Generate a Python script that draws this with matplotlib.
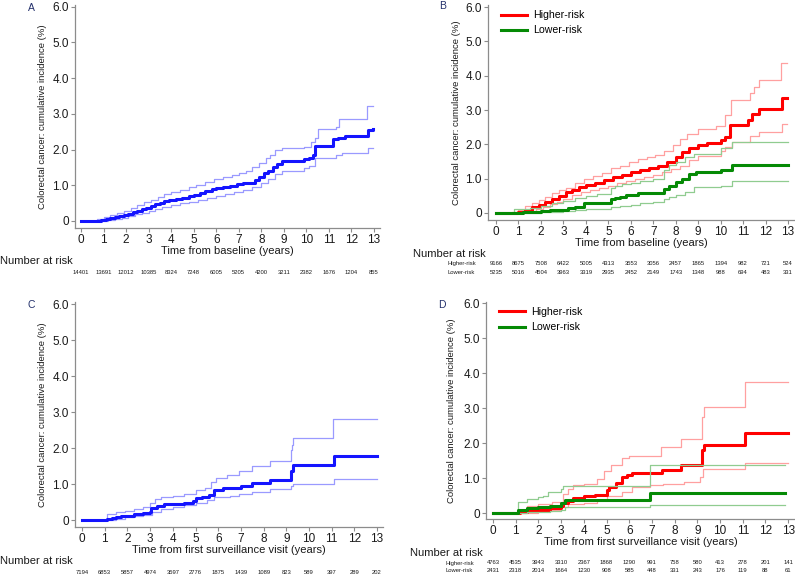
import numpy as np
import matplotlib.pyplot as plt
from matplotlib.transforms import blended_transform_factory

plt.rcParams['font.family'] = ['Liberation Sans', 'DejaVu Sans']

years = list(range(14))
ytick_vals = [0, 1, 2, 3, 4, 5, 6]
ytick_labels = ['0', '1.0', '2.0', '3.0', '4.0', '5.0', '6.0']

# ---- panel A : all, from baseline
a_t = [0, 0.7, 0.9, 1.1, 1.3, 1.5, 1.7, 1.9, 2.1, 2.3, 2.5, 2.7, 2.9, 3.1, 3.3, 3.5, 3.7, 3.9, 4.2, 4.5,
       4.8, 5.0, 5.3, 5.5, 5.8, 6.0, 6.3, 6.6, 6.9, 7.2, 7.5, 7.7, 7.9, 8.1, 8.3, 8.5, 8.7, 8.9, 9.9, 10.1,
       10.3, 10.4, 11.2, 11.4, 11.7, 12.75, 12.97]
a_est = [0, 0.01, 0.03, 0.05, 0.08, 0.10, 0.13, 0.16, 0.19, 0.24, 0.29, 0.33, 0.37, 0.42, 0.47, 0.51, 0.55,
         0.59, 0.62, 0.65, 0.70, 0.73, 0.78, 0.84, 0.88, 0.92, 0.95, 0.98, 1.03, 1.05, 1.07, 1.14, 1.22, 1.33,
         1.40, 1.50, 1.60, 1.68, 1.72, 1.77, 1.85, 2.10, 2.29, 2.33, 2.37, 2.55, 2.58]
a_up_t = [0, 0.7, 1.0, 1.3, 1.6, 1.9, 2.2, 2.5, 2.8, 3.1, 3.4, 3.7, 4.0, 4.4, 4.8, 5.1, 5.5, 5.9, 6.3, 6.7,
          7.0, 7.3, 7.6, 7.9, 8.2, 8.4, 8.6, 8.9, 9.9, 10.2, 10.4, 10.5, 11.3, 11.45, 12.7, 12.97]
a_up = [0, 0.05, 0.10, 0.16, 0.22, 0.28, 0.36, 0.44, 0.52, 0.58, 0.66, 0.74, 0.80, 0.86, 0.94, 1.01, 1.08,
        1.16, 1.22, 1.28, 1.33, 1.40, 1.50, 1.63, 1.75, 1.85, 1.99, 2.04, 2.08, 2.20, 2.32, 2.57, 2.64, 2.85,
        3.22, 3.22]
a_lo_t = [0, 0.9, 1.2, 1.5, 1.8, 2.1, 2.4, 2.7, 3.0, 3.3, 3.6, 4.0, 4.4, 4.8, 5.2, 5.6, 6.0, 6.4, 6.8, 7.2,
          7.6, 8.0, 8.3, 8.6, 8.9, 9.9, 10.1, 10.4, 11.3, 11.6, 12.75, 12.97]
a_lo = [0, 0.01, 0.03, 0.06, 0.09, 0.13, 0.18, 0.23, 0.28, 0.33, 0.39, 0.45, 0.49, 0.54, 0.58, 0.64, 0.70,
        0.74, 0.80, 0.86, 0.95, 1.07, 1.18, 1.30, 1.40, 1.47, 1.55, 1.75, 1.85, 1.91, 2.05, 2.05]
a_risk = [14401, 13691, 12012, 10385, 8324, 7248, 6005, 5205, 4200, 3211, 2382, 1676, 1204, 855]

# ---- panel B : higher vs lower risk, from baseline
b_hi_t = [0, 0.7, 1.0, 1.3, 1.6, 1.9, 2.2, 2.5, 2.8, 3.1, 3.4, 3.7, 4.0, 4.4, 4.8, 5.2, 5.6, 6.0, 6.4, 6.8,
          7.2, 7.6, 8.0, 8.3, 8.6, 9.0, 9.4, 10.0, 10.2, 10.4, 11.2, 11.4, 11.7, 12.75, 12.97]
b_hi = [0, 0.01, 0.04, 0.10, 0.17, 0.24, 0.33, 0.40, 0.50, 0.60, 0.68, 0.76, 0.83, 0.88, 0.97, 1.05, 1.12,
        1.20, 1.25, 1.32, 1.38, 1.50, 1.63, 1.78, 1.90, 1.98, 2.03, 2.12, 2.22, 2.57, 2.70, 2.88, 3.02, 3.34,
        3.35]
b_hi_up_t = [0, 0.7, 1.0, 1.3, 1.6, 1.9, 2.2, 2.5, 2.8, 3.1, 3.5, 3.9, 4.3, 4.7, 5.1, 5.5, 5.9, 6.3, 6.7,
             7.1, 7.5, 7.9, 8.2, 8.5, 9.0, 9.8, 10.2, 10.45, 11.3, 11.5, 11.7, 12.7, 12.97]
b_hi_up = [0, 0.03, 0.10, 0.20, 0.29, 0.37, 0.47, 0.57, 0.66, 0.74, 0.86, 0.98, 1.08, 1.16, 1.30, 1.38,
           1.48, 1.56, 1.62, 1.70, 1.82, 1.98, 2.15, 2.30, 2.45, 2.54, 2.85, 3.29, 3.50, 3.68, 3.88, 4.37, 4.37]
b_hi_lo_t = [0, 0.9, 1.2, 1.5, 1.8, 2.1, 2.4, 2.7, 3.0, 3.4, 3.8, 4.2, 4.6, 5.0, 5.4, 5.8, 6.2, 6.6, 7.0,
             7.4, 7.8, 8.2, 8.6, 9.0, 10.0, 10.2, 10.5, 11.3, 11.7, 12.75, 12.97]
b_hi_lo = [0, 0.01, 0.03, 0.07, 0.12, 0.18, 0.25, 0.33, 0.42, 0.52, 0.60, 0.66, 0.73, 0.80, 0.86, 0.92,
           0.98, 1.05, 1.12, 1.20, 1.28, 1.38, 1.55, 1.66, 1.80, 1.93, 2.07, 2.23, 2.36, 2.59, 2.59]
b_lo_t = [0, 0.8, 1.2, 1.6, 2.0, 2.4, 2.8, 3.2, 3.5, 3.9, 5.1, 5.3, 5.5, 5.8, 6.3, 7.5, 7.7, 8.0, 8.3, 8.6,
          8.9, 10.0, 10.5, 13.0]
b_lo = [0, 0.01, 0.02, 0.04, 0.06, 0.08, 0.10, 0.14, 0.17, 0.28, 0.40, 0.45, 0.48, 0.52, 0.57, 0.70, 0.80,
        0.90, 1.00, 1.15, 1.18, 1.25, 1.40, 1.40]
b_lo_up_t = [0, 0.8, 1.5, 2.0, 2.5, 3.0, 3.5, 4.0, 4.5, 5.1, 5.3, 5.6, 6.0, 6.4, 7.0, 7.5, 7.7, 8.0, 8.4,
             8.8, 10.0, 10.5, 13.0]
b_lo_up = [0, 0.13, 0.16, 0.20, 0.28, 0.36, 0.43, 0.50, 0.55, 0.72, 0.80, 0.84, 0.88, 0.92, 0.98, 1.25,
           1.40, 1.50, 1.62, 1.72, 1.89, 2.06, 2.06]
b_lo_lo_t = [0, 0.8, 1.5, 2.0, 2.5, 3.0, 3.5, 4.0, 5.1, 5.5, 6.0, 6.4, 7.0, 7.5, 7.7, 8.0, 8.4, 8.8, 10.0,
             10.5, 13.0]
b_lo_lo = [0, 0.0, 0.01, 0.02, 0.04, 0.06, 0.08, 0.12, 0.18, 0.21, 0.24, 0.30, 0.33, 0.40, 0.47, 0.52, 0.62,
           0.75, 0.80, 0.93, 0.93]
b_risk_hi = [9166, 8675, 7508, 6422, 5005, 4313, 3553, 3056, 2457, 1865, 1394, 982, 721, 524]
b_risk_lo = [5235, 5016, 4504, 3963, 3319, 2935, 2452, 2149, 1743, 1348, 988, 694, 483, 331]

# ---- panel C : all, from first surveillance visit
c_t = [0, 1.1, 1.3, 1.5, 1.7, 2.0, 2.3, 2.7, 3.0, 3.05, 3.3, 3.6, 4.5, 4.9, 5.0, 5.3, 5.6, 5.8, 6.2, 7.0,
       7.5, 8.3, 9.2, 9.3, 11.1, 13.0]
c_est = [0, 0.02, 0.05, 0.08, 0.10, 0.12, 0.18, 0.20, 0.22, 0.33, 0.40, 0.45, 0.47, 0.52, 0.60, 0.65, 0.70,
         0.82, 0.88, 0.95, 1.02, 1.12, 1.35, 1.52, 1.78, 1.78]
c_up_t = [0, 1.1, 1.5, 1.9, 2.3, 2.7, 3.0, 3.2, 3.5, 4.0, 4.5, 5.0, 5.4, 5.7, 5.9, 6.4, 6.9, 7.5, 8.3, 9.2,
          9.25, 9.3, 11.05, 13.0]
c_up = [0, 0.18, 0.21, 0.24, 0.30, 0.36, 0.48, 0.58, 0.64, 0.68, 0.71, 0.82, 0.90, 1.05, 1.17, 1.25, 1.35,
        1.50, 1.65, 1.95, 2.08, 2.29, 2.80, 2.80]
c_lo_t = [0, 1.1, 1.5, 1.9, 2.3, 2.7, 3.1, 3.5, 4.0, 4.5, 5.0, 5.5, 5.8, 6.5, 6.9, 7.5, 8.3, 9.2, 9.3, 11.1,
          13.0]
c_lo = [0, 0.01, 0.04, 0.07, 0.10, 0.14, 0.23, 0.30, 0.36, 0.42, 0.46, 0.56, 0.63, 0.67, 0.72, 0.79, 0.87,
        0.95, 1.00, 1.14, 1.14]
c_risk = [7194, 6853, 5857, 4974, 3597, 2776, 1875, 1439, 1089, 823, 589, 397, 289, 202]

# ---- panel D : higher vs lower risk, from first surveillance visit
d_hi_t = [0, 1.1, 1.2, 1.5, 2.0, 2.5, 3.0, 3.1, 3.3, 3.5, 4.0, 4.5, 5.0, 5.1, 5.4, 5.7, 5.9, 6.1, 7.45, 8.3,
          9.2, 9.3, 11.1, 13.0]
d_hi = [0, 0.01, 0.03, 0.06, 0.10, 0.15, 0.20, 0.28, 0.35, 0.42, 0.48, 0.52, 0.65, 0.75, 0.85, 1.02, 1.09,
        1.14, 1.24, 1.38, 1.80, 1.95, 2.30, 2.30]
d_hi_up_t = [0, 1.1, 1.5, 2.0, 2.6, 3.1, 3.3, 3.5, 4.0, 4.6, 4.9, 5.2, 5.7, 6.0, 7.4, 8.3, 9.2, 9.3, 11.1,
             13.0]
d_hi_up = [0, 0.10, 0.20, 0.26, 0.31, 0.55, 0.70, 0.79, 0.84, 0.97, 1.20, 1.38, 1.57, 1.63, 1.88, 2.12,
           2.75, 3.02, 3.75, 3.75]
d_hi_lo_t = [0, 1.1, 2.0, 2.6, 3.0, 3.3, 4.0, 4.6, 5.0, 5.7, 6.1, 6.9, 7.5, 8.4, 9.1, 9.25, 11.1, 13.0]
d_hi_lo = [0, 0.0, 0.05, 0.10, 0.18, 0.25, 0.30, 0.36, 0.50, 0.60, 0.73, 0.79, 0.84, 0.89, 1.04, 1.26, 1.43,
           1.43]
d_lo_t = [0, 1.1, 1.5, 2.0, 2.5, 3.0, 3.15, 6.9, 12.85]
d_lo = [0, 0.08, 0.14, 0.16, 0.20, 0.30, 0.36, 0.57, 0.57]
d_lo_up_t = [0, 1.1, 1.5, 2.0, 2.2, 2.4, 3.0, 3.1, 6.9, 12.85]
d_lo_up = [0, 0.32, 0.40, 0.46, 0.50, 0.60, 0.69, 0.76, 1.38, 1.38]
d_lo_lo_t = [0, 1.1, 1.5, 2.0, 2.5, 3.0, 3.15, 6.9, 12.85]
d_lo_lo = [0, 0.0, 0.02, 0.04, 0.06, 0.08, 0.18, 0.24, 0.24]
d_risk_hi = [4763, 4535, 3943, 3310, 2367, 1868, 1290, 991, 758, 580, 413, 278, 201, 141]
d_risk_lo = [2431, 2318, 2014, 1664, 1230, 908, 585, 448, 331, 243, 176, 119, 88, 61]

ylab = 'Colorectal cancer: cumulative incidence (%)'
xlab_base = 'Time from baseline (years)'
xlab_surv = 'Time from first surveillance visit (years)'

blue, blue_ci = '#1414ff', '#9a9aff'
red, red_ci = '#ff0000', '#ffa0a0'
green, green_ci = '#058a05', '#90cc90'
axcol = '#8c8c8c'

W, H = 795, 575
fig = plt.figure(figsize=(W / 100, H / 100), dpi=100)


def px_axes(left, top, right, bottom):
    return fig.add_axes([left / W, 1 - bottom / H, (right - left) / W, (bottom - top) / H])


def style(ax, xlim, ylim, xlabel, ylab_x):
    ax.set_xlim(*xlim)
    ax.set_ylim(*ylim)
    for s in ['top', 'right']:
        ax.spines[s].set_visible(False)
    for s in ['left', 'bottom']:
        ax.spines[s].set_color(axcol)
        ax.spines[s].set_linewidth(0.9)
    ax.set_xticks(years)
    ax.set_yticks(ytick_vals)
    ax.set_yticklabels(ytick_labels)
    ax.tick_params(axis='both', colors=axcol, labelcolor='#1a1a1a', labelsize=8.5, length=3, width=0.8, pad=1.5)
    ax.set_xlabel(xlabel, fontsize=8, color='#1a1a1a', labelpad=0)
    ax.set_ylabel(ylab, fontsize=6.8, color='#1a1a1a')
    ax.yaxis.set_label_coords(ylab_x, 0.5)


def ci_plot(ax, t, est, up_t, up, lo_t, lo, col, col_ci, lab=None):
    ax.step(up_t, up, where='post', color=col_ci, lw=0.9)
    ax.step(lo_t, lo, where='post', color=col_ci, lw=0.9)
    ax.step(t, est, where='post', color=col, lw=2.2, label=lab)


def risk_table(ax, y_head, x_head, rows, x_lab):
    tr = blended_transform_factory(ax.transData, fig.transFigure)
    fig.text(x_head / W, 1 - y_head / H, 'Number at risk', fontsize=8, va='center', ha='left', color='#1a1a1a')
    for y_row, lab, vals in rows:
        if lab:
            fig.text(x_lab / W, 1 - y_row / H, lab, fontsize=4.2, va='center', ha='left', color='#1a1a1a')
        for x, v in zip(years, vals):
            ax.text(x, 1 - y_row / H, str(v), transform=tr, fontsize=4.2, ha='center', va='center',
                    color='#1a1a1a')


def add_legend(ax):
    ax.legend(loc='upper left', bbox_to_anchor=(0.01, 1.02), frameon=False,
              fontsize=7.6, handlelength=2.5, labelspacing=0.5, handletextpad=0.55)


# A
axA = px_axes(75, 5, 380, 228)
ci_plot(axA, a_t, a_est, a_up_t, a_up, a_lo_t, a_lo, blue, blue_ci)
style(axA, (-0.27, 13.27), (-0.2, 6.05), xlab_base, -0.092)
risk_table(axA, 261, 0, [(272, None, a_risk)], 0)
fig.text(31 / W, 1 - 8 / H, 'A', fontsize=7.5, color='#23306b', ha='center', va='center')

# B
axB = px_axes(488, 5, 795, 220)
ci_plot(axB, b_hi_t, b_hi, b_hi_up_t, b_hi_up, b_hi_lo_t, b_hi_lo, red, red_ci, 'Higher-risk')
ci_plot(axB, b_lo_t, b_lo, b_lo_up_t, b_lo_up, b_lo_lo_t, b_lo_lo, green, green_ci, 'Lower-risk')
style(axB, (-0.356, 13.31), (-0.204, 6.06), xlab_base, -0.088)
add_legend(axB)
risk_table(axB, 254, 413, [(264, 'Higher-risk', b_risk_hi), (272, 'Lower-risk', b_risk_lo)], 448)
fig.text(443 / W, 1 - 6 / H, 'B', fontsize=7.5, color='#23306b', ha='center', va='center')

# C
axC = px_axes(75, 302, 383, 527)
ci_plot(axC, c_t, c_est, c_up_t, c_up, c_lo_t, c_lo, blue, blue_ci)
style(axC, (-0.31, 13.26), (-0.194, 6.056), xlab_surv, -0.091)
risk_table(axC, 561, 0, [(572, None, c_risk)], 0)
fig.text(31 / W, 1 - 305 / H, 'C', fontsize=7.5, color='#23306b', ha='center', va='center')

# D
axD = px_axes(486, 302, 795, 519)
ci_plot(axD, d_hi_t, d_hi, d_hi_up_t, d_hi_up, d_hi_lo_t, d_hi_lo, red, red_ci, 'Higher-risk')
ci_plot(axD, d_lo_t, d_lo, d_lo_up_t, d_lo_up, d_lo_lo_t, d_lo_lo, green, green_ci, 'Lower-risk')
style(axD, (-0.31, 13.3), (-0.17, 6.03), xlab_surv, -0.097)
add_legend(axD)
risk_table(axD, 553, 410, [(563, 'Higher-risk', d_risk_hi), (571, 'Lower-risk', d_risk_lo)], 445)
fig.text(442 / W, 1 - 305 / H, 'D', fontsize=7.5, color='#23306b', ha='center', va='center')

fig.savefig('out.png', dpi=100)
